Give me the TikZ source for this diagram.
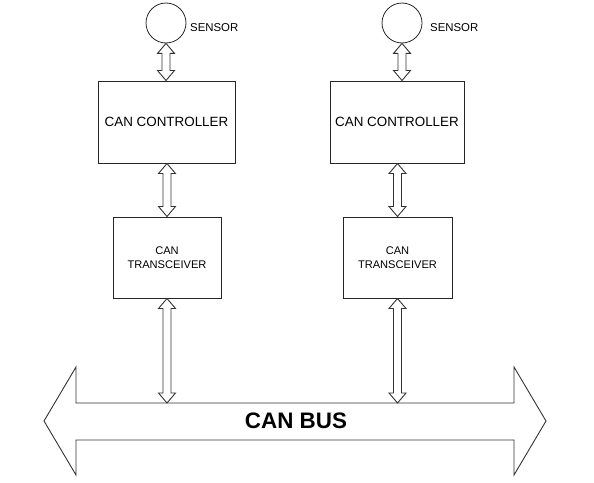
\documentclass[tikz,border=0pt]{standalone}
\usepackage{fontspec}
\setmainfont{Liberation Sans}
\usetikzlibrary{calc}
\tikzset{
  blk/.style={draw=black!85, line width=1pt, rectangle, inner sep=0pt, align=center, font=\fontsize{13.4}{15}\selectfont},
  tblk/.style={blk, font=\fontsize{11.1}{14.5}\selectfont},
  sens/.style={draw=black!85, line width=0.8pt, circle, minimum size=40pt, inner sep=0pt},
  slabel/.style={anchor=west, inner sep=0pt, font=\fontsize{11.4}{12}\selectfont},
  arr/.style={draw=black!80, line width=0.9pt, fill=white, line join=miter},
  busline/.style={draw=black!80, line width=0.9pt, fill=white, line join=miter}
}
\newcommand\dbarr[2]{%
  \path[arr] let \p1=(#1), \p2=(#2) in
    (\x1,\y1) -- (\x1+8.5pt,\y1-10pt) -- (\x1+4pt,\y1-10pt) -- (\x1+4pt,\y2+10pt)
    -- (\x1+8.5pt,\y2+10pt) -- (\x1,\y2) -- (\x1-8.5pt,\y2+10pt) -- (\x1-4pt,\y2+10pt)
    -- (\x1-4pt,\y1-10pt) -- (\x1-8.5pt,\y1-10pt) -- cycle;}
\begin{document}
\begin{tikzpicture}[x=1pt,y=-1pt]
\useasboundingbox (0,0) rectangle (594,482);
% bus
\path[busline] (44,421) -- (76,367) -- (76,403) -- (514,403) -- (514,367) -- (546,421)
  -- (514,475) -- (514,440) -- (76,440) -- (76,475) -- cycle;
\node[font=\bfseries\fontsize{22.4}{24}\selectfont, inner sep=0pt] (bus) at (296,421) {CAN BUS};
% left node
\node[sens] (s1) at (166,23) {};
\node[slabel] (sl1) at (190,28) {SENSOR};
\node[blk, minimum width=137pt, minimum height=82pt] (c1) at (166.5,122) {CAN CONTROLLER};
\node[tblk, minimum width=108pt, minimum height=81pt] (t1) at (167,257.5) {CAN\\TRANSCEIVER};
% right node
\node[sens] (s2) at (402,23) {};
\node[slabel] (sl2) at (430,28) {SENSOR};
\node[blk, minimum width=134pt, minimum height=82pt] (c2) at (397,122) {CAN CONTROLLER};
\node[tblk, minimum width=109pt, minimum height=81pt] (t2) at (397.5,257.5) {CAN\\TRANSCEIVER};
% bus attachment points
\coordinate (b1) at (167,403);
\coordinate (b2) at (397,403);
% arrows
\dbarr{s1.south}{c1.north}
\dbarr{t1.north |- c1.south}{t1.north}
\dbarr{t1.south}{b1}
\dbarr{s2.south}{c2.north -| s2.south}
\dbarr{t2.north |- c2.south}{t2.north}
\dbarr{t2.south}{b2}
\end{tikzpicture}
\end{document}
